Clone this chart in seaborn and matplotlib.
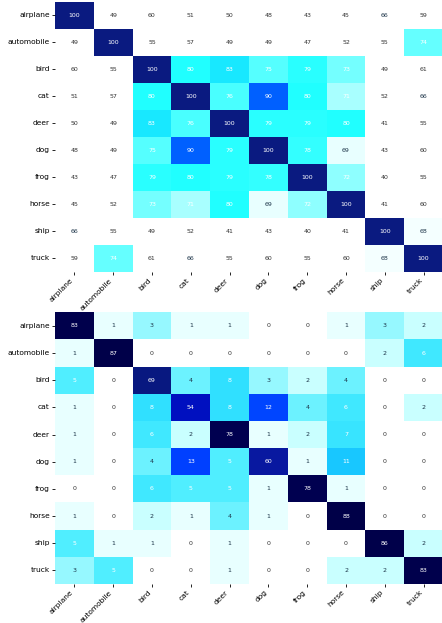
import numpy as np
import pandas as pd
import matplotlib
matplotlib.use("Agg")
import matplotlib.pyplot as plt
import seaborn as sns
from matplotlib.colors import LinearSegmentedColormap

classes = ['airplane', 'automobile', 'bird', 'cat', 'deer',
           'dog', 'frog', 'horse', 'ship', 'truck']

# class similarity (top)
similarity = [
    [100, 49, 60, 51, 50, 48, 43, 45, 66, 59],
    [49, 100, 55, 57, 49, 49, 47, 52, 55, 74],
    [60, 55, 100, 80, 83, 75, 79, 73, 49, 61],
    [51, 57, 80, 100, 76, 90, 80, 71, 52, 66],
    [50, 49, 83, 76, 100, 79, 79, 80, 41, 55],
    [48, 49, 75, 90, 79, 100, 78, 69, 43, 60],
    [43, 47, 79, 80, 79, 78, 100, 72, 40, 55],
    [45, 52, 73, 71, 80, 69, 72, 100, 41, 60],
    [66, 55, 49, 52, 41, 43, 40, 41, 100, 68],
    [59, 74, 61, 66, 55, 60, 55, 60, 68, 100],
]

# confusion matrix in % (bottom)
confusion = [
    [83, 1, 3, 1, 1, 0, 0, 1, 3, 2],
    [1, 87, 0, 0, 0, 0, 0, 0, 2, 6],
    [5, 0, 69, 4, 8, 3, 2, 4, 0, 0],
    [1, 0, 8, 54, 8, 12, 4, 6, 0, 2],
    [1, 0, 6, 2, 78, 1, 2, 7, 0, 0],
    [1, 0, 4, 13, 5, 60, 1, 11, 0, 0],
    [0, 0, 6, 5, 5, 1, 78, 1, 0, 0],
    [1, 0, 2, 1, 4, 1, 0, 88, 0, 0],
    [5, 1, 1, 0, 1, 0, 0, 0, 86, 2],
    [3, 5, 0, 0, 1, 0, 0, 2, 2, 83],
]

# colour stops (value, colour) for each panel
top_stops = [(67, '#ffffff'), (69, '#e8ffff'), (71, '#a8ffff'), (73, '#74ffff'),
             (75, '#55ffff'), (77, '#3cffff'), (80, '#20ffff'), (83, '#18e8ff'),
             (90, '#0060ff'), (100, '#0a1a80')]
bottom_stops = [(0, '#ffffff'), (1, '#e8ffff'), (2, '#c8ffff'), (3, '#94f8ff'),
                (4, '#6cf2ff'), (5, '#50eeff'), (6, '#40e8ff'), (8, '#30e0ff'),
                (11, '#18c8ff'), (12, '#0044ff'), (13, '#0040ff'), (54, '#0010c0'),
                (60, '#0818a0'), (69, '#081880'), (78, '#000050'), (88, '#000048')]


def make_cmap(stops):
    lo, hi = stops[0][0], stops[-1][0]
    return LinearSegmentedColormap.from_list(
        'c', [((v - lo) / (hi - lo), c) for v, c in stops], N=2048), lo, hi


def draw(ax, data, stops, dark_from, white_from):
    cmap, lo, hi = make_cmap(stops)
    df = pd.DataFrame(data, index=classes, columns=classes)
    sns.heatmap(df, ax=ax, cmap=cmap, vmin=lo, vmax=hi, cbar=False,
                annot=True, fmt='d', annot_kws={'fontsize': 4.5})
    vals = np.asarray(data).ravel()
    for t, v in zip(ax.texts, vals):
        if v >= white_from:
            t.set_color('white')
        elif v >= dark_from:
            t.set_color('#1c3448')
        else:
            t.set_color('#333333')
    ax.set_xticklabels(classes, rotation=45, ha='right', fontsize=5.4)
    ax.set_yticklabels(classes, rotation=0, fontsize=5.4)
    ax.tick_params(length=2, width=0.6, pad=1.8)
    ax.set_xlabel('')
    ax.set_ylabel('')


fig = plt.figure(figsize=(4.42, 6.23), dpi=100)
ax1 = fig.add_axes([55 / 442, (623 - 272) / 623, 388 / 442, 270.3 / 623])
ax2 = fig.add_axes([55 / 442, (623 - 584) / 623, 388 / 442, 271.7 / 623])

draw(ax1, similarity, top_stops, 64, 71)
draw(ax2, confusion, bottom_stops, 1, 5)

fig.savefig('out.png', dpi=100)
